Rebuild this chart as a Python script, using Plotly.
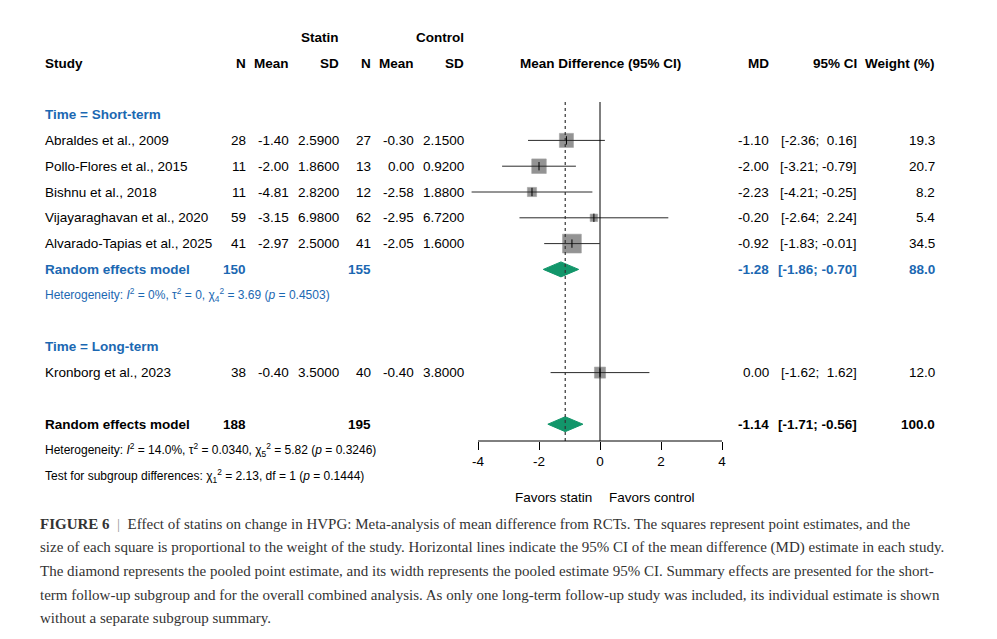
import math
import plotly.graph_objects as go

# Study-level data (statin vs control, change in HVPG)
studies = ["Abraldes et al., 2009", "Pollo-Flores et al., 2015", "Bishnu et al., 2018",
           "Vijayaraghavan et al., 2020", "Alvarado-Tapias et al., 2025", "Kronborg et al., 2023"]
n_statin = [28, 11, 11, 59, 41, 38]
mean_statin = [-1.40, -2.00, -4.81, -3.15, -2.97, -0.40]
sd_statin = [2.59, 1.86, 2.82, 6.98, 2.50, 3.50]
n_control = [27, 13, 12, 62, 41, 40]
mean_control = [-0.30, 0.00, -2.58, -2.95, -2.05, -0.40]
sd_control = [2.15, 0.92, 1.88, 6.72, 1.60, 3.80]
md = [-1.10, -2.00, -2.23, -0.20, -0.92, 0.00]
ci_lo = [-2.36, -3.21, -4.21, -2.64, -1.83, -1.62]
ci_hi = [0.16, -0.79, -0.25, 2.24, -0.01, 1.62]
weight = [19.3, 20.7, 8.2, 5.4, 34.5, 12.0]
study_row = [3, 4, 5, 6, 7, 12]

# Pooled estimates: short-term subgroup, overall
pooled_label = ["Random effects model", "Random effects model"]
pooled_n_statin = [150, 188]
pooled_n_control = [155, 195]
pooled_md = [-1.28, -1.14]
pooled_lo = [-1.86, -1.71]
pooled_hi = [-0.70, -0.56]
pooled_weight = [88.0, 100.0]
pooled_row = [8, 14]

x_ticks = [-4, -2, 0, 2, 4]
x_tick_labels = ["-4", "-2", "0", "2", "4"]

W, H = 997, 639
ROW_PX, ROW0_PX = 25.8, 63
BLUE = "#1b68b2"
GREEN = "#12966a"
FONT = "Liberation Sans"


def row_of(px):
    return (px - ROW0_PX) / ROW_PX


fig = go.Figure()

# Squares, area proportional to weight
fig.add_trace(go.Scatter(
    x=md, y=study_row, mode="markers",
    marker=dict(symbol="square", size=[3.2 * math.sqrt(w) for w in weight],
                color="#666666", line=dict(color="#7a7a7a", width=0.6)),
    showlegend=False))

# Confidence interval lines (drawn over the squares)
cx, cy = [], []
for lo, hi, r in zip(ci_lo, ci_hi, study_row):
    cx += [lo, hi, None]
    cy += [r, r, None]
fig.add_trace(go.Scatter(x=cx, y=cy, mode="lines", line=dict(color="#2a2a2a", width=1),
                         hoverinfo="skip", showlegend=False))

# Point estimate ticks
fig.add_trace(go.Scatter(
    x=md, y=study_row, mode="markers",
    marker=dict(symbol="line-ns-open", size=6, color="black", line=dict(color="black", width=1)),
    showlegend=False))

# Diamonds for pooled estimates
half_h = 0.29
for est, lo, hi, r in zip(pooled_md, pooled_lo, pooled_hi, pooled_row):
    fig.add_trace(go.Scatter(
        x=[lo, est, hi, est, lo], y=[r, r - half_h, r, r + half_h, r],
        mode="lines", fill="toself", fillcolor=GREEN, line=dict(color=GREEN, width=1),
        showlegend=False))

# Reference lines
top_row, axis_row = row_of(102), row_of(441)
fig.add_shape(type="line", xref="x", yref="y", x0=0, x1=0, y0=top_row, y1=axis_row,
              line=dict(color="black", width=1))
fig.add_shape(type="line", xref="x", yref="y", x0=pooled_md[1], x1=pooled_md[1],
              y0=top_row, y1=axis_row, line=dict(color="#333333", width=1.2, dash="dot"))
fig.add_shape(type="line", xref="x", yref="y", x0=x_ticks[0], x1=x_ticks[-1],
              y0=axis_row, y1=axis_row, line=dict(color="black", width=1))


def txt(x_px, row, text, anchor="right", bold=False, color="black", size=13.5):
    if bold:
        text = "<b>" + text + "</b>"
    # annotation boxes carry a little padding; nudge so the glyphs sit on the column edge
    if anchor == "left":
        x_px -= 2
    elif anchor == "right":
        x_px += 3
    fig.add_annotation(x=x_px / W, xref="paper", y=row, yref="y", text=text,
                       xanchor=anchor, yanchor="middle", showarrow=False,
                       font=dict(family=FONT, size=size, color=color))


def nb(s):
    return s.replace(" ", "\u00a0")


# Column headers
txt(338, -1, "Statin", bold=True)
txt(463, -1, "Control", bold=True)
txt(45, 0, "Study", anchor="left", bold=True)
for xp, lab in zip([245, 288, 338, 370, 413, 463], ["N", "Mean", "SD", "N", "Mean", "SD"]):
    txt(xp, 0, lab, bold=True)
txt(600, 0, "Mean Difference (95% CI)", anchor="center", bold=True)
txt(768, 0, "MD", bold=True)
txt(856, 0, "95% CI", bold=True)
txt(934, 0, "Weight (%)", bold=True)

# Subgroup headings
txt(45, 2, "Time = Short-term", anchor="left", bold=True, color=BLUE)
txt(45, 11, "Time = Long-term", anchor="left", bold=True, color=BLUE)

# Study rows
for i, r in enumerate(study_row):
    txt(45, r, studies[i], anchor="left")
    txt(245, r, str(n_statin[i]))
    txt(288, r, f"{mean_statin[i]:.2f}")
    txt(338, r, f"{sd_statin[i]:.4f}")
    txt(370, r, str(n_control[i]))
    txt(413, r, f"{mean_control[i]:.2f}")
    txt(463, r, f"{sd_control[i]:.4f}")
    txt(768, r, f"{md[i]:.2f}")
    txt(856, r, nb(f"[{ci_lo[i]:5.2f}; {ci_hi[i]:5.2f}]"))
    txt(934, r, f"{weight[i]:.1f}")

# Pooled rows
for i, r in enumerate(pooled_row):
    col = BLUE if i == 0 else "black"
    txt(45, r, pooled_label[i], anchor="left", bold=True, color=col)
    txt(245, r, str(pooled_n_statin[i]), bold=True, color=col)
    txt(370, r, str(pooled_n_control[i]), bold=True, color=col)
    txt(768, r, f"{pooled_md[i]:.2f}", bold=True, color=col)
    txt(856, r, nb(f"[{pooled_lo[i]:5.2f}; {pooled_hi[i]:5.2f}]"), bold=True, color=col)
    txt(934, r, f"{pooled_weight[i]:.1f}", bold=True, color=col)

# Heterogeneity / tests
txt(45, 9, "Heterogeneity: <i>I</i><sup>2</sup> = 0%, τ<sup>2</sup> = 0, χ<sub>4</sub><sup>2</sup> = 3.69 (<i>p</i> = 0.4503)",
    anchor="left", color=BLUE, size=12)
txt(45, 15, "Heterogeneity: <i>I</i><sup>2</sup> = 14.0%, τ<sup>2</sup> = 0.0340, χ<sub>5</sub><sup>2</sup> = 5.82 (<i>p</i> = 0.3246)",
    anchor="left", size=12)
txt(45, 16, "Test for subgroup differences: χ<sub>1</sub><sup>2</sup> = 2.13, df = 1 (<i>p</i> = 0.1444)",
    anchor="left", size=12)

# Favours labels
txt(553, row_of(497), "Favors statin", anchor="center")
txt(652, row_of(497), "Favors control", anchor="center")

# Caption
caption = [
    "<b>FIGURE 6</b>  <span style='color:#999999'>|</span>  Effect of statins on change in HVPG: Meta-analysis of mean difference from RCTs. The squares represent point estimates, and the",
    "size of each square is proportional to the weight of the study. Horizontal lines indicate the 95% CI of the mean difference (MD) estimate in each study.",
    "The diamond represents the pooled point estimate, and its width represents the pooled estimate 95% CI. Summary effects are presented for the short-",
    "term follow-up subgroup and for the overall combined analysis. As only one long-term follow-up study was included, its individual estimate is shown",
    "without a separate subgroup summary.",
]
for j, line in enumerate(caption):
    fig.add_annotation(x=38 / W, xref="paper", y=1 - (524 + 23.5 * j) / H, yref="paper",
                       text=line, xanchor="left", yanchor="middle", showarrow=False,
                       font=dict(family="Liberation Serif", size=15, color="#333333"))

# Layout
x_per_px = 30.5
x_lo_px, x_hi_px = 600 - 5 * x_per_px, 600 + 5 * x_per_px
fig.update_layout(
    width=W, height=H,
    margin=dict(l=0, r=0, t=0, b=0),
    paper_bgcolor="white", plot_bgcolor="rgba(0,0,0,0)",
    showlegend=False,
    xaxis=dict(domain=[x_lo_px / W, x_hi_px / W], range=[-5, 5], anchor="free",
               position=1 - 441 / H, tickvals=x_ticks, ticktext=x_tick_labels,
               ticks="outside", ticklen=8,
               tickcolor="black", tickwidth=1, showline=False, showgrid=False,
               zeroline=False, tickfont=dict(family=FONT, size=13.5, color="black")),
    yaxis=dict(domain=[0, 1], range=[row_of(H), row_of(0)], visible=False,
               showgrid=False, zeroline=False),
)

# page body has a default 8px margin; remove it so the figure sits at the window corner
fig.write_html("out.html", config={"displayModeBar": False},
               post_script="document.body.style.margin='0';")
